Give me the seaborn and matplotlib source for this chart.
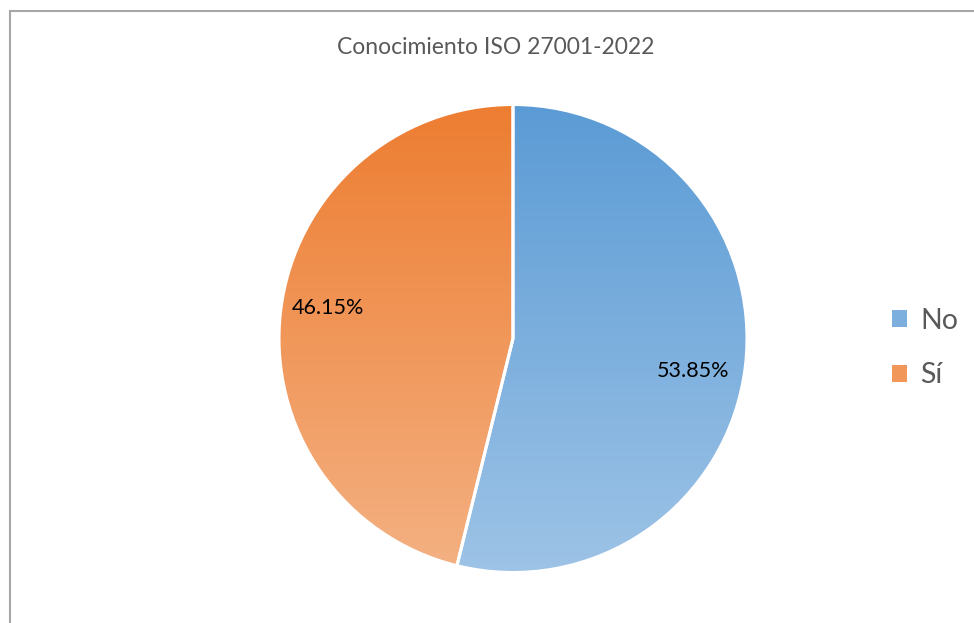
import numpy as np
import matplotlib
matplotlib.use("Agg")
import matplotlib.pyplot as plt
from matplotlib.colors import LinearSegmentedColormap
from matplotlib.patches import Rectangle
import seaborn as sns

# Survey answers
categories = ["No", "Sí"]
shares = [53.85, 46.15]
title_text = "Conocimiento ISO 27001-2022"

# Vertical gradient per slice: (top colour, bottom colour)
gradients = [("#5B9BD5", "#9DC3E6"), ("#ED7D31", "#F4B183")]

sns.set_theme(style="white")
plt.rcParams["font.family"] = ["Lato", "DejaVu Sans"]

W, H = 974, 623
fig = plt.figure(figsize=(W / 100, H / 100), dpi=100)
fig.patch.set_facecolor("white")

# Chart-area frame (runs off the right and bottom edges)
frame = Rectangle((9.5 / W, -0.05), 1.2, (H - 10.5) / H + 0.05,
                  transform=fig.transFigure, fill=False,
                  edgecolor="#a6a6a6", linewidth=1.5)
fig.patches.append(frame)

cx, cy, r = 513, H - 338.5, 234
ax = fig.add_axes([(cx - r) / W, (cy - r) / H, 2 * r / W, 2 * r / H])
ax.set_facecolor("none")

wedges, _, autotexts = ax.pie(
    shares, labels=None, startangle=90, counterclock=False,
    autopct=lambda p: f"{p:.2f}%", pctdistance=0.78,
    wedgeprops=dict(linewidth=2.2, edgecolor="white"),
    textprops=dict(color="black", fontsize=15.5),
)
ax.set_xlim(-1, 1)
ax.set_ylim(-1, 1)
ax.set_aspect("equal")
ax.axis("off")

grad = np.linspace(0, 1, 256).reshape(-1, 1)
for w, (top, bottom) in zip(wedges, gradients):
    w.set_facecolor("none")
    cmap = LinearSegmentedColormap.from_list("g", [top, bottom])
    im = ax.imshow(grad, cmap=cmap, extent=(-1, 1, -1, 1), origin="upper",
                   aspect="auto", zorder=w.get_zorder() - 0.1,
                   interpolation="bilinear")
    im.set_clip_path(w)

# Percentage labels, placed like the spreadsheet's best-fit labels
label_pos = [(0.769, -0.139), (-0.79, 0.13)]
for t, (x, y) in zip(autotexts, label_pos):
    t.set_position((x, y))
    t.set_ha("center")
    t.set_va("center")
    t.set_zorder(5)

fig.text(496 / W, 1 - 48 / H, title_text, ha="center", va="center",
         fontsize=16.5, color="#595959")

# Legend
handles = [Rectangle((0, 0), 1, 1, facecolor=sns.blend_palette(g, 3)[1],
                     edgecolor="none") for g in gradients]
fig.legend(handles, categories, loc="center left",
           bbox_to_anchor=(866 / W, 1 - 348 / H), frameon=False,
           fontsize=20.5, labelcolor="#595959", handlelength=0.55,
           handleheight=0.55, handletextpad=0.45, labelspacing=1.0)

fig.savefig("out.png", dpi=100, facecolor="white")
